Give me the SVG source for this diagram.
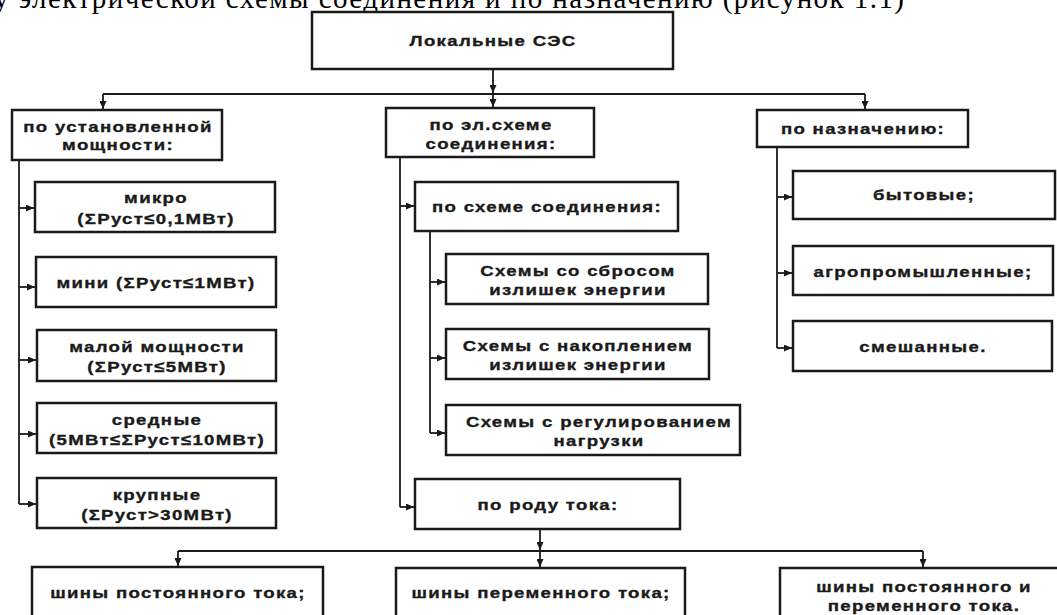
<svg xmlns="http://www.w3.org/2000/svg" width="1057" height="615" viewBox="0 0 1057 615">
<style>
.box{fill:#fff;stroke:#1a1a1a;stroke-width:2.5}
.t{font-family:"Liberation Sans",Arial,sans-serif;font-weight:bold;font-size:15.5px;letter-spacing:1.1px;fill:#1a1a1a;stroke:#1a1a1a;stroke-width:0.35;text-anchor:middle;transform-box:fill-box;transform-origin:center;transform:scaleX(1.2)}
.c{fill:none;stroke:#1a1a1a;stroke-width:1.8}
.cap{font-family:"Liberation Serif","Times New Roman",serif;font-size:29px;fill:#000}
</style>
<defs>
<marker id="ah" markerUnits="userSpaceOnUse" markerWidth="8" markerHeight="7" refX="8" refY="3.5" orient="auto">
<path d="M0,0 L8,3.5 L0,7 z" fill="#1a1a1a"/>
</marker>
</defs>
<rect width="1057" height="615" fill="#fff"/>
<text class="cap" x="-6" y="8" textLength="910" lengthAdjust="spacing">у электрической схемы соединения и по назначению (рисунок 1.1)</text>

<g id="connectors">
<path class="c" d="M493,69 V93" marker-end="url(#ah)"/>
<path class="c" d="M103,94 H865"/>
<path class="c" d="M103,94 V109" marker-end="url(#ah)"/>
<path class="c" d="M493,94 V107" marker-end="url(#ah)"/>
<path class="c" d="M865,94 V109" marker-end="url(#ah)"/>
<path class="c" d="M19,160 V504"/>
<path class="c" d="M19,208 H34" marker-end="url(#ah)"/>
<path class="c" d="M19,287 H35" marker-end="url(#ah)"/>
<path class="c" d="M19,360 H36" marker-end="url(#ah)"/>
<path class="c" d="M19,434 H36" marker-end="url(#ah)"/>
<path class="c" d="M19,504 H36" marker-end="url(#ah)"/>
<path class="c" d="M400,157 V507"/>
<path class="c" d="M400,206 H414" marker-end="url(#ah)"/>
<path class="c" d="M400,507 H414" marker-end="url(#ah)"/>
<path class="c" d="M430,231 V433"/>
<path class="c" d="M430,282 H445" marker-end="url(#ah)"/>
<path class="c" d="M430,358 H445" marker-end="url(#ah)"/>
<path class="c" d="M430,433 H445" marker-end="url(#ah)"/>
<path class="c" d="M777,147 V348"/>
<path class="c" d="M777,197 H792" marker-end="url(#ah)"/>
<path class="c" d="M777,273 H792" marker-end="url(#ah)"/>
<path class="c" d="M777,348 H792" marker-end="url(#ah)"/>
<path class="c" d="M540,529 V550" marker-end="url(#ah)"/>
<path class="c" d="M178,551 H923"/>
<path class="c" d="M540,551 V567" marker-end="url(#ah)"/>
<path class="c" d="M178,551 V566" marker-end="url(#ah)"/>
<path class="c" d="M923,551 V567" marker-end="url(#ah)"/>
</g>

<g id="n-root"><rect class="box" x="312" y="12" width="361" height="57"/><text class="t" x="493" y="46">Локальные СЭС</text></g>

<g id="n-power"><rect class="box" x="12" y="110" width="210" height="50"/><text class="t" x="118" y="132">по установленной</text><text class="t" x="118" y="150">мощности:</text></g>
<g id="n-micro"><rect class="box" x="35" y="182" width="240" height="50"/><text class="t" x="156" y="203">микро</text><text class="t" x="156" y="224">(ΣРуст≤0,1МВт)</text></g>
<g id="n-mini"><rect class="box" x="36" y="257" width="240" height="50"/><text class="t" x="156" y="288">мини (ΣРуст≤1МВт)</text></g>
<g id="n-small"><rect class="box" x="37" y="330" width="239" height="51"/><text class="t" x="157" y="352">малой мощности</text><text class="t" x="157" y="372">(ΣРуст≤5МВт)</text></g>
<g id="n-medium"><rect class="box" x="37" y="403" width="239" height="50"/><text class="t" x="157" y="425">средные</text><text class="t" x="157" y="445">(5МВт≤ΣРуст≤10МВт)</text></g>
<g id="n-large"><rect class="box" x="37" y="478" width="239" height="50"/><text class="t" x="157" y="500">крупные</text><text class="t" x="157" y="520">(ΣРуст&gt;30МВт)</text></g>

<g id="n-scheme"><rect class="box" x="386" y="108" width="208" height="49"/><text class="t" x="491" y="130">по эл.схеме</text><text class="t" x="491" y="149">соединения:</text></g>
<g id="n-conn"><rect class="box" x="415" y="182" width="263" height="49"/><text class="t" x="547" y="212">по схеме соединения:</text></g>
<g id="n-dump"><rect class="box" x="446" y="254" width="262" height="50"/><text class="t" x="578" y="276">Схемы со сбросом</text><text class="t" x="578" y="295">излишек энергии</text></g>
<g id="n-store"><rect class="box" x="446" y="329" width="263" height="50"/><text class="t" x="578" y="351">Схемы с накоплением</text><text class="t" x="578" y="370">излишек энергии</text></g>
<g id="n-reg"><rect class="box" x="446" y="405" width="294" height="50"/><text class="t" x="599" y="427">Схемы с регулированием</text><text class="t" x="599" y="446">нагрузки</text></g>
<g id="n-current"><rect class="box" x="415" y="479" width="265" height="50"/><text class="t" x="548" y="510">по роду тока:</text></g>

<g id="n-purpose"><rect class="box" x="757" y="110" width="211" height="37"/><text class="t" x="863" y="134">по назначению:</text></g>
<g id="n-home"><rect class="box" x="793" y="171" width="262" height="48"/><text class="t" x="924" y="200">бытовые;</text></g>
<g id="n-agro"><rect class="box" x="793" y="246" width="260" height="49"/><text class="t" x="923" y="277">агропромышленные;</text></g>
<g id="n-mixed"><rect class="box" x="793" y="321" width="259" height="50"/><text class="t" x="923" y="352">смешанные.</text></g>

<g id="n-dc"><rect class="box" x="32" y="567" width="291" height="70"/><text class="t" x="178" y="598">шины постоянного тока;</text></g>
<g id="n-ac"><rect class="box" x="396" y="568" width="289" height="70"/><text class="t" x="541" y="598">шины переменного тока;</text></g>
<g id="n-acdc"><rect class="box" x="780" y="568" width="300" height="70"/><text class="t" x="924" y="592">шины постоянного и</text><text class="t" x="924" y="611">переменного тока.</text></g>
</svg>
